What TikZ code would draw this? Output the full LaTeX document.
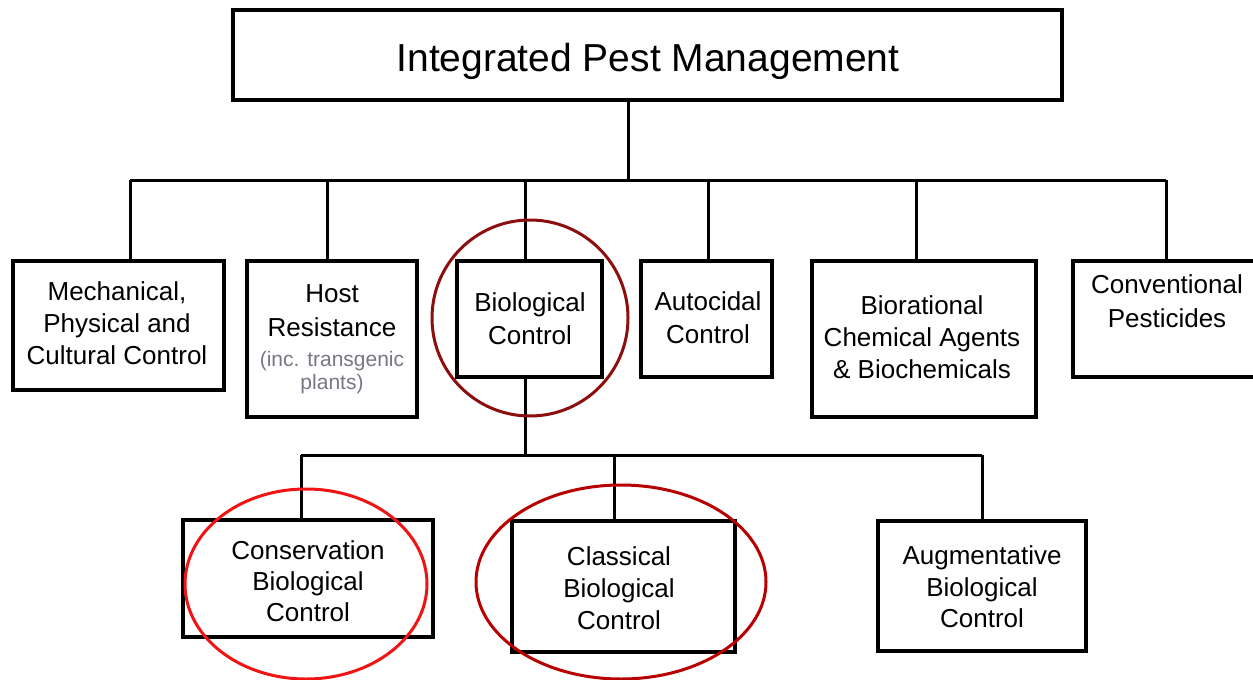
\documentclass[tikz,border=0pt]{standalone}
\usepackage{fontspec}
\setmainfont{Liberation Sans}
\definecolor{ringA}{RGB}{140,15,15}
\definecolor{ringB}{RGB}{240,20,20}
\definecolor{ringC}{RGB}{185,0,0}
\definecolor{smallgray}{RGB}{120,120,130}
\begin{document}
\begin{tikzpicture}[x=1pt,y=-1pt,
  box/.style={draw=black, line width=3.5pt, inner sep=0pt},
  lbl/.style={align=center, font=\fontsize{26}{32}\selectfont, inner sep=0pt},
  smalllbl/.style={align=center, font=\fontsize{21}{23}\selectfont, text=smallgray, inner sep=0pt},
  conn/.style={line width=3pt},
  ring/.style={line width=3pt}]
\useasboundingbox (0,0) rectangle (1253,680);
\fill[white] (0,0) rectangle (1253,680);

% title
\node[box, minimum width=829pt, minimum height=90pt] (title) at (647.5,55) {};
\node[font=\fontsize{39}{44}\selectfont, inner sep=0pt] (titleT) at (648,61) {Integrated Pest Management};

% level 2 boxes
\node[box, minimum width=211pt, minimum height=129pt] (mech) at (118.5,325.5) {};
\node[box, minimum width=170pt, minimum height=156pt] (host) at (332,339) {};
\node[box, minimum width=145pt, minimum height=116pt] (bio) at (529.5,319) {};
\node[box, minimum width=131pt, minimum height=116pt] (auto) at (706.5,319) {};
\node[box, minimum width=224pt, minimum height=156pt] (bior) at (924,339) {};
\node[box, minimum width=186pt, minimum height=116pt] (conv) at (1166,319) {};

\node[lbl] (mechT) at (117,323) {Mechanical,\\Physical and\\Cultural Control};
\node[lbl, font=\fontsize{26}{34}\selectfont] (hostT) at (332,311) {Host\\Resistance};
\node[smalllbl] (hostS) at (332,373) {(inc. transgenic\\plants)};
\node[lbl, font=\fontsize{26}{33}\selectfont] (bioT) at (530,318.5) {Biological\\Control};
\node[lbl, font=\fontsize{26}{33}\selectfont] (autoT) at (708,318) {Autocidal\\Control};
\node[lbl] (biorT) at (922,337) {Biorational\\Chemical Agents\\\& Biochemicals};
\node[lbl, font=\fontsize{26}{34}\selectfont] (convT) at (1167,301) {Conventional\\Pesticides};

% level 3 boxes
\node[box, minimum width=250pt, minimum height=117pt] (cons) at (308,578.5) {};
\node[box, minimum width=223pt, minimum height=131pt] (clas) at (623.5,586.5) {};
\node[box, minimum width=208pt, minimum height=130pt] (augm) at (982,586) {};

\node[lbl, font=\fontsize{26}{31}\selectfont] (consT) at (308,581) {Conservation\\Biological\\Control};
\node[lbl, font=\fontsize{26}{32}\selectfont] (clasT) at (619,588) {Classical\\Biological\\Control};
\node[lbl, font=\fontsize{26}{31.5}\selectfont] (augmT) at (982,587) {Augmentative\\Biological\\Control};

% connectors level 1 -> 2
\coordinate (tb) at (628,180);
\coordinate (b1) at (130,180);
\coordinate (b2) at (327,180);
\coordinate (b3) at (525,180);
\coordinate (b4) at (708,180);
\coordinate (b5) at (916,180);
\coordinate (b6) at (1166,180);
\draw[conn] (title.south -| tb) -- (tb);
\draw[conn] (b1) -- (b6);
\draw[conn] (b1) -- (b1 |- mech.north);
\draw[conn] (b2) -- (b2 |- host.north);
\draw[conn] (b3) -- (b3 |- bio.north);
\draw[conn] (b4) -- (b4 |- auto.north);
\draw[conn] (b5) -- (b5 |- bior.north);
\draw[conn] (b6) -- (b6 |- conv.north);

% connectors level 2 -> 3
\coordinate (mb) at (525,455);
\coordinate (c1) at (301,455);
\coordinate (c2) at (614,455);
\coordinate (c3) at (982,455);
\draw[conn] (bio.south -| mb) -- (mb);
\draw[conn] (c1) -- (c3);
\draw[conn] (c1) -- (c1 |- cons.north);
\draw[conn] (c2) -- (c2 |- clas.north);
\draw[conn] (c3) -- (c3 |- augm.north);

% highlight rings
\draw[ring, ringA] (530,318) circle [radius=98pt];
\draw[ring, ringB] (306,584) ellipse [x radius=121pt, y radius=95pt];
\draw[ring, ringC] (621,582) ellipse [x radius=145pt, y radius=97pt];
\end{tikzpicture}
\end{document}
